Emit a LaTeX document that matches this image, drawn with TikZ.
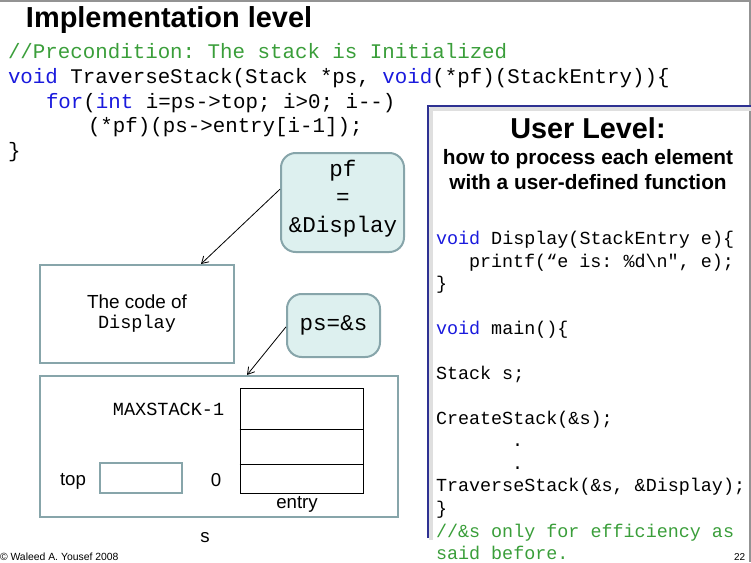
\documentclass[tikz,border=0pt]{standalone}
\usepackage{fontspec}
\setmainfont{Liberation Sans}
\setsansfont{Liberation Sans}
\setmonofont{Liberation Mono}
\usetikzlibrary{arrows.meta,positioning}
\definecolor{kwblue}{RGB}{26,26,221}
\definecolor{cmgreen}{RGB}{58,158,58}
\definecolor{boxedge}{RGB}{135,165,170}
\definecolor{boxfill}{RGB}{221,240,239}
\definecolor{panelblue}{RGB}{46,49,146}
\newcommand{\kw}[1]{\textcolor{kwblue}{#1}}
\begin{document}
\begin{tikzpicture}[x=0.75pt,y=-0.75pt,
  txt/.style={inner sep=0pt,outer sep=0pt},
  codeL/.style={txt,anchor=base west,font=\ttfamily\fontsize{15.6}{18}\selectfont},
  codeR/.style={txt,anchor=base west,font=\ttfamily\fontsize{13.8}{16}\selectfont},
  plainbox/.style={draw=boxedge,line width=1.5pt,fill=white,inner sep=0pt},
  roundbox/.style={draw=boxedge,line width=1.5pt,fill=boxfill,rounded corners=11pt,inner sep=0pt,align=center},
  lbl/.style={txt,anchor=base,font=\sffamily\fontsize{14}{16}\selectfont},
  arr/.style={-{Straight Barb[length=5pt,width=6pt]},line width=0.6pt,black}]
\useasboundingbox (0,0) rectangle (751,562);
% slide frame
\draw[gray!85,line width=1.5pt] (0,1) -- (750,1) -- (750,562);
% title
\node[txt,anchor=base west,font=\sffamily\bfseries\fontsize{21.7}{24}\selectfont] (title) at (26,27) {Implementation level};
% left code
\node[codeL,text=cmgreen] (l1) at (8,58) {//Precondition: The stack is Initialized};
\node[codeL] (l2) at (8,83) {\kw{void} TraverseStack(Stack *ps, \kw{void}(*pf)(StackEntry))\{};
\node[codeL] (l3) at (46,108) {\kw{for}(\kw{int} i=ps->top; i>0; i--)};
\node[codeL] (l4) at (88,132) {(*pf)(ps->entry[i-1]);};
\node[codeL] (l5) at (8,157) {\}};
% user level panel
\draw[gray!25,line width=3pt] (430,109) -- (751,109);
\draw[gray!25,line width=3pt] (431,108) -- (431,540);
\draw[panelblue,line width=2.2pt] (428,538) -- (428,106) -- (751,106);
\node[txt,anchor=base,font=\sffamily\bfseries\fontsize{21.6}{24}\selectfont] (ultitle) at (588,138) {User Level:};
\node[txt,anchor=base,font=\sffamily\bfseries\fontsize{15.6}{18}\selectfont] (ul2) at (588,164) {how to process each element};
\node[txt,anchor=base,font=\sffamily\bfseries\fontsize{15.6}{18}\selectfont] (ul3) at (588,189) {with a user-defined function};
\node[codeR] (r1) at (436,244) {\kw{void} Display(StackEntry e)\{};
\node[codeR] (r2) at (469,267) {printf(“e is: \%d\textbackslash n", e);};
\node[codeR] (r3) at (436,289) {\}};
\node[codeR] (r4) at (436,334) {\kw{void} main()\{};
\node[codeR] (r5) at (436,379) {Stack s;};
\node[codeR] (r6) at (436,424) {CreateStack(\&s);};
\node[codeR] (r7) at (512,446) {.};
\node[codeR] (r8) at (512,469) {.};
\node[codeR] (r9) at (436,491) {TraverseStack(\&s, \&Display);};
\node[codeR] (r10) at (436,514) {\}};
\node[codeR,text=cmgreen] (r11) at (436,537) {//\&s only for efficiency as};
\node[codeR,text=cmgreen] (r12) at (436,559) {said before.};
% boxes
\node[roundbox,minimum width=92.25pt,minimum height=74.25pt] (pfbox) at (342.5,202.5) {};
\node[txt,align=center,font=\ttfamily\fontsize{16.9}{21}\selectfont] (pftext) at (343,199) {pf\\=\\\&Display};
\node[plainbox,minimum width=145.5pt,minimum height=73.5pt,align=center,font=\sffamily\fontsize{14.2}{15}\selectfont] (codebox) at (137,314) {The code of\\{\ttfamily\fontsize{13.9}{15}\selectfont Display}};
\node[roundbox,minimum width=69.75pt,minimum height=47.25pt,font=\ttfamily\fontsize{16.9}{20}\selectfont] (psbox) at (333.5,325.5) {ps=\&s};
\node[plainbox,minimum width=268.5pt,minimum height=105.75pt] (sbox) at (219,446.5) {};
\node[plainbox,minimum width=61.5pt,minimum height=22.5pt] (topbox) at (141,478) {};
\node[draw=black,line width=0.7pt,fill=white,inner sep=0pt,minimum width=92.25pt,minimum height=78.75pt] (entrybox) at (301.5,440.5) {};
\draw[black,line width=0.7pt] (entrybox.west |- 0,429) -- (entrybox.east |- 0,429);
\draw[black,line width=0.7pt] (entrybox.west |- 0,464) -- (entrybox.east |- 0,464);
% labels
\node[txt,anchor=base west,font=\ttfamily\fontsize{13.9}{15}\selectfont] (maxl) at (113,415) {MAXSTACK-1};
\node[lbl] (toplbl) at (73,485) {top};
\node[lbl] (zerolbl) at (216,486) {0};
\node[lbl] (entrylbl) at (297,508) {entry};
\node[lbl] (slbl) at (205,542) {s};
% arrows
\draw[arr] ([yshift=10pt]pfbox.west) -- ([xshift=48pt]codebox.north);
\draw[arr] ([yshift=-1pt]psbox.west) -- ([xshift=21pt]sbox.north);
% footer
\node[txt,anchor=base west,font=\sffamily\fontsize{7.8}{8}\selectfont] (copy) at (0,560) {© Waleed A. Yousef 2008};
\node[txt,anchor=base west,font=\sffamily\fontsize{7.5}{9}\selectfont] (pnum) at (734,560) {22};
\end{tikzpicture}
\end{document}
